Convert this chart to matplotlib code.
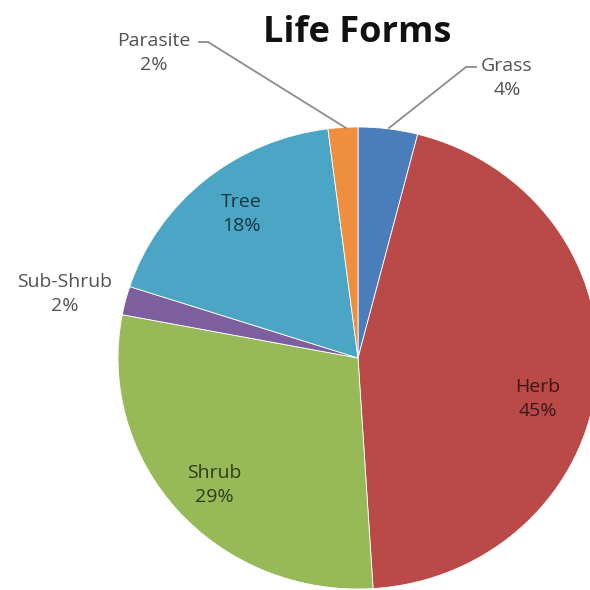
import matplotlib
matplotlib.use("Agg")
import matplotlib.pyplot as plt

# data
categories = ["Grass", "Herb", "Shrub", "Sub-Shrub", "Tree", "Parasite"]
shares = [4, 45, 29, 2, 18, 2]
colors = ["#4A7EBB", "#BA4A47", "#98B958", "#7D5FA0", "#4AA6C4", "#EE8E3E"]

# label positions in pixels (x, y from top)
label_pos = [(507, 78), (538, 399), (214, 485), (65, 294), (241, 214), (154, 53)]

W = 590
fig = plt.figure(figsize=(5.9, 5.9), dpi=100)
fig.patch.set_facecolor("white")

def fx(px):
    return px / W

def fy(py):
    return 1 - py / W

# pie centre ~ (358, 358), rx 240, ry 231
cx, cy, rx, ry = 358, 358, 240, 231
ax = fig.add_axes([fx(cx - rx), fy(cy + ry), 2 * rx / W, 2 * ry / W])
ax.pie(shares, colors=colors, startangle=90, counterclock=False,
       wedgeprops=dict(linewidth=0.6, edgecolor="white"))
ax.set_aspect("auto")
ax.set_xlim(-1, 1)
ax.set_ylim(-1, 1)
ax.axis("off")

fig.text(fx(357), fy(33), "Life Forms", ha="center", va="center",
         fontsize=26, fontweight="bold", family="Open Sans", color="#111111")

for name, val, (px, py) in zip(categories, shares, label_pos):
    fig.text(fx(px), fy(py), f"{name}\n{val}%", ha="center", va="center",
             fontsize=14, family="Open Sans", color="black", alpha=0.68,
             linespacing=1.4)

# leader lines for the small outside labels
line_kw = dict(color="#8c8c8c", linewidth=1.3, transform=fig.transFigure)
fig.add_artist(plt.Line2D([fx(199), fx(208), fx(346)], [fy(42), fy(42), fy(128)], **line_kw))
fig.add_artist(plt.Line2D([fx(476), fx(466), fx(389)], [fy(67), fy(67), fy(128)], **line_kw))

fig.savefig("out.png", dpi=100, facecolor="white")
